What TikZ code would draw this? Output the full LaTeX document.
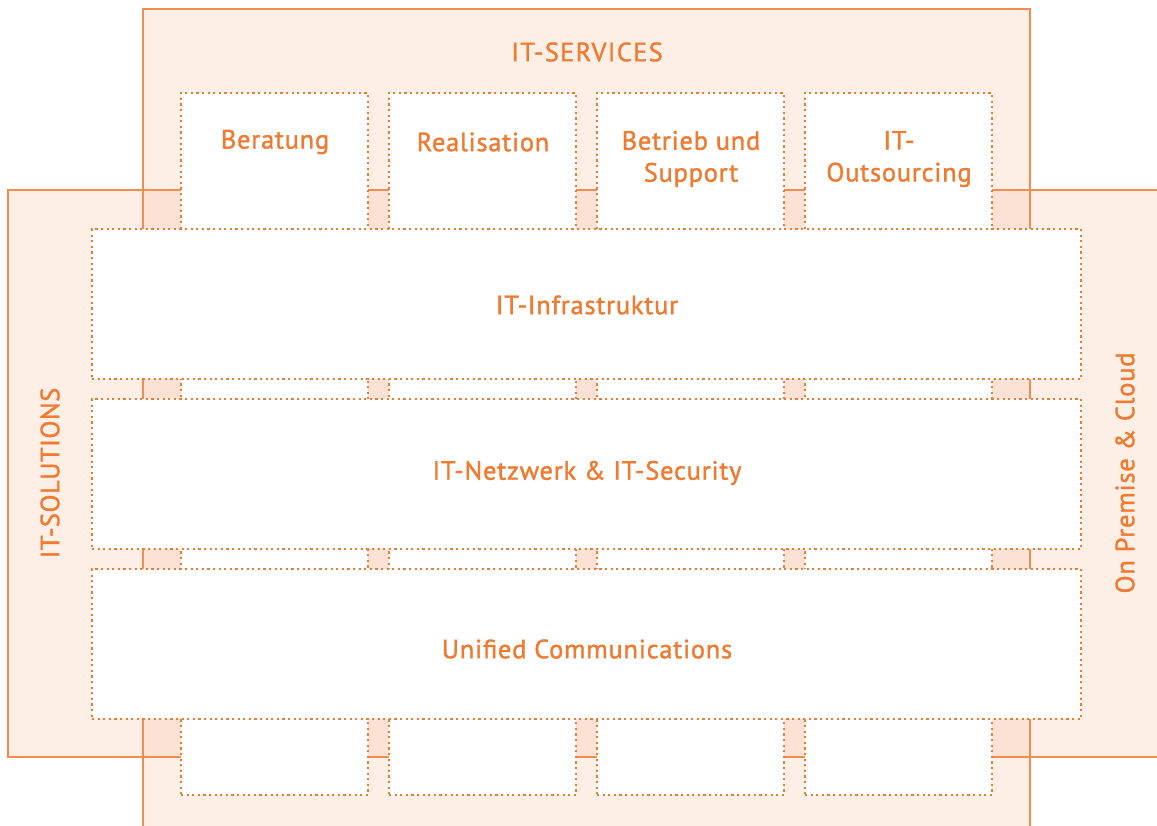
\documentclass[tikz,border=0pt]{standalone}
\usepackage{fontspec}
\setmainfont{PT Sans}[FakeBold=1.3,LetterSpace=3]
\newfontfamily\spacedfont{PT Sans}[LetterSpace=5,FakeBold=1.3]
\newfontfamily\spacedfontb{PT Sans}[LetterSpace=2,FakeBold=1.3]
\definecolor{orng}{RGB}{239,122,48}
\definecolor{bandfill}{RGB}{253,239,230}
\definecolor{overfill}{RGB}{252,226,213}
\begin{document}
\begin{tikzpicture}[x=1bp,y=-1bp,
  bandline/.style={draw=orng!85!white,line width=1.4bp},
  dotbox/.style={draw=orng,fill=white,line width=2.2bp,dash pattern=on 2.2bp off 3.4bp,line cap=butt},
  lbl/.style={text=orng,font=\fontsize{26.5}{32}\selectfont,align=center,inner sep=0pt},
  ]
\useasboundingbox (0,0) rectangle (1157,826);
\clip (0,0) rectangle (1157,826);
% bands
\fill[bandfill] (143,9) rectangle (1030,840);
\fill[bandfill] (8,190) rectangle (1170,757);
\fill[overfill] (143,190) rectangle (1030,757);
\draw[bandline] (143,840) -- (143,9) -- (1030,9) -- (1030,840);
\draw[bandline] (1170,190) -- (8,190) -- (8,757) -- (1170,757);
% columns
\node[dotbox,minimum width=187bp,minimum height=702bp,inner sep=0pt] (c1) at (274.5,444) {};
\node[dotbox,minimum width=187bp,minimum height=702bp,inner sep=0pt] (c2) at (482.5,444) {};
\node[dotbox,minimum width=187bp,minimum height=702bp,inner sep=0pt] (c3) at (690.5,444) {};
\node[dotbox,minimum width=187bp,minimum height=702bp,inner sep=0pt] (c4) at (898.5,444) {};
% bars
\node[dotbox,minimum width=989bp,minimum height=150bp,inner sep=0pt] (b1) at (586.5,304) {};
\node[dotbox,minimum width=989bp,minimum height=150bp,inner sep=0pt] (b2) at (586.5,474) {};
\node[dotbox,minimum width=989bp,minimum height=150bp,inner sep=0pt] (b3) at (586.5,644) {};
% labels
\node[lbl,font=\spacedfont\fontsize{26.5}{32}\selectfont] (ts) at (587,52) {IT-SERVICES};
\node[lbl] (t1) at (275,142) {Beratung};
\node[lbl] (t2) at (483,142) {Realisation};
\node[lbl] (t3) at (691,159) {Betrieb und\\Support};
\node[lbl] (t4) at (899,159) {IT-\\Outsourcing};
\node[lbl] (t5) at (587,305) {IT-Infrastruktur};
\node[lbl] (t6) at (587,473) {IT-Netzwerk \& IT-Security};
\node[lbl] (t7) at (587,649) {Unified Communications};
\node[lbl,font=\spacedfontb\fontsize{26.5}{32}\selectfont,rotate=90] (tl) at (50,473) {IT-SOLUTIONS};
\node[lbl,rotate=90] (tr) at (1125,473) {On Premise \& Cloud};
\end{tikzpicture}
\end{document}
